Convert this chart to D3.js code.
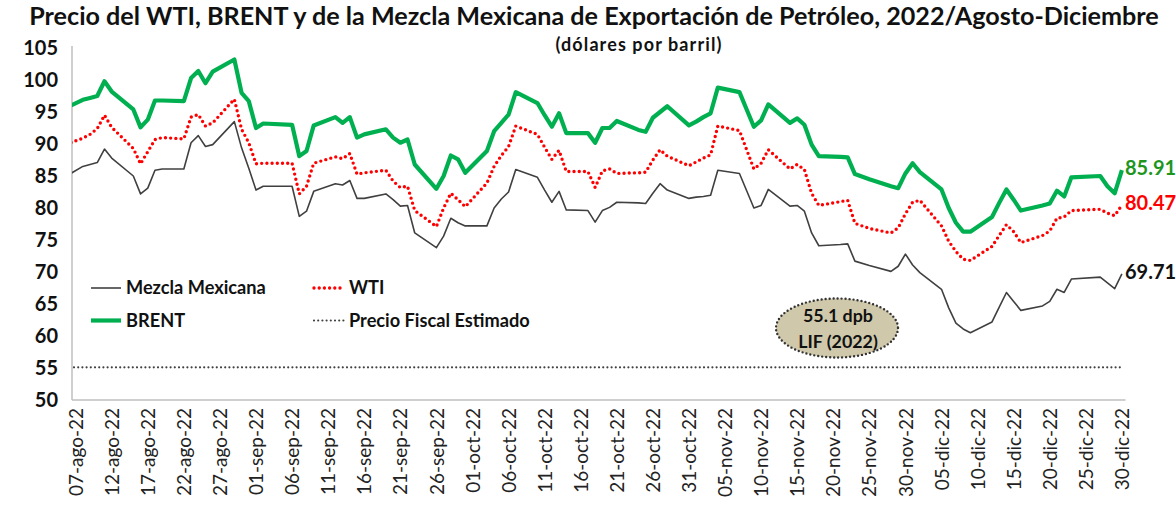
<!DOCTYPE html>
<html>
<head>
<meta charset="utf-8">
<script src="https://cdn.jsdelivr.net/npm/d3@7"></script>
<style>
  body { margin: 0; background: #fff; }
  svg { display: block; }
  .axis path, .axis line { stroke: #bfbfbf; }
</style>
</head>
<body>
<svg id="chart"></svg>
<script>
// trading days
const dates = ["2022-08-05","2022-08-08","2022-08-09","2022-08-10","2022-08-11","2022-08-12","2022-08-15","2022-08-16","2022-08-17","2022-08-18","2022-08-19","2022-08-22","2022-08-23","2022-08-24","2022-08-25","2022-08-26","2022-08-29","2022-08-30","2022-08-31",
  "2022-09-01","2022-09-02","2022-09-06","2022-09-07","2022-09-08","2022-09-09","2022-09-12","2022-09-13","2022-09-14","2022-09-15","2022-09-16","2022-09-19","2022-09-20","2022-09-21","2022-09-22","2022-09-23","2022-09-26","2022-09-27","2022-09-28","2022-09-29","2022-09-30",
  "2022-10-03","2022-10-04","2022-10-05","2022-10-06","2022-10-07","2022-10-10","2022-10-11","2022-10-12","2022-10-13","2022-10-14","2022-10-17","2022-10-18","2022-10-19","2022-10-20","2022-10-21","2022-10-24","2022-10-25","2022-10-26","2022-10-27","2022-10-28","2022-10-31",
  "2022-11-01","2022-11-02","2022-11-03","2022-11-04","2022-11-07","2022-11-08","2022-11-09","2022-11-10","2022-11-11","2022-11-14","2022-11-15","2022-11-16","2022-11-17","2022-11-18","2022-11-21","2022-11-22","2022-11-23","2022-11-25","2022-11-28","2022-11-29","2022-11-30",
  "2022-12-01","2022-12-02","2022-12-05","2022-12-06","2022-12-07","2022-12-08","2022-12-09","2022-12-12","2022-12-13","2022-12-14","2022-12-15","2022-12-16","2022-12-19","2022-12-20","2022-12-21","2022-12-22","2022-12-23","2022-12-27","2022-12-28","2022-12-29","2022-12-30"];

const brent = [95.3, 96.9, 97.2, 97.5, 99.8, 98.2, 95.4, 92.6, 93.8, 96.8, 96.8, 96.7, 100.3, 101.4, 99.5, 101.3, 103.2, 98.0, 96.7,
  92.5, 93.2, 93.0, 88.1, 88.9, 92.9, 94.2, 93.3, 94.2, 91.0, 91.5, 92.3, 91.0, 90.2, 90.7, 86.8, 83.0, 85.0, 88.2, 87.6, 85.5,
  88.9, 92.0, 93.3, 94.6, 98.1, 96.4, 94.5, 92.7, 94.8, 91.7, 91.7, 90.2, 92.5, 92.5, 93.6, 92.2, 91.9, 94.1, 95.0, 95.9, 92.9,
  93.5, 94.2, 94.8, 98.8, 98.1, 95.4, 92.7, 93.7, 96.2, 93.3, 94.0, 93.0, 89.9, 88.1, 88.0, 87.9, 85.3, 84.5, 83.4, 83.1, 85.4,
  87.0, 85.6, 82.9, 80.0, 77.7, 76.3, 76.3, 78.6, 80.8, 82.9, 81.3, 79.6, 80.4, 80.7, 82.7, 81.8, 84.8, 85.0, 83.4, 82.3, 85.91];

const wti = [89.7, 90.9, 91.5, 92.4, 94.5, 92.6, 89.3, 86.9, 88.8, 90.7, 91.0, 90.8, 94.2, 94.6, 92.8, 93.3, 97.0, 92.3, 90.2,
  86.9, 87.0, 87.0, 82.2, 83.4, 87.0, 88.0, 87.7, 88.5, 85.3, 85.5, 85.9, 84.2, 83.2, 83.4, 79.6, 77.1, 80.0, 82.3, 81.3, 80.2,
  83.9, 86.5, 88.2, 89.6, 92.8, 91.5, 89.5, 87.6, 89.0, 85.7, 85.7, 83.2, 85.8, 86.1, 85.4, 85.5, 85.6, 87.5, 89.1, 88.1, 86.6,
  87.2, 87.8, 88.3, 92.8, 92.1, 89.1, 86.1, 87.0, 89.1, 86.1, 86.8, 86.0, 82.3, 80.4, 81.0, 81.2, 77.6, 76.8, 76.1, 76.9, 79.1,
  80.9, 81.2, 77.2, 74.8, 73.2, 72.0, 71.8, 74.0, 75.7, 77.4, 76.3, 74.6, 75.7, 76.4, 78.4, 78.6, 79.6, 79.8, 79.2, 78.8, 80.47];

const mezcla = [84.5, 86.5, 86.8, 87.1, 89.2, 87.8, 85.0, 82.2, 83.1, 85.9, 86.1, 86.1, 90.2, 91.3, 89.6, 89.9, 93.5, 89.4, 86.2,
  82.8, 83.4, 83.4, 78.7, 79.5, 82.6, 83.8, 83.6, 84.3, 81.5, 81.5, 82.2, 81.3, 80.3, 80.4, 76.1, 73.8, 75.6, 78.4, 77.7, 77.2,
  77.2, 80.0, 81.4, 82.5, 86.0, 84.8, 82.8, 80.9, 82.6, 79.7, 79.6, 77.8, 79.6, 80.1, 80.9, 80.8, 80.7, 82.3, 83.8, 82.8, 81.5,
  81.7, 81.8, 82.0, 85.9, 85.4, 82.7, 80.0, 80.4, 82.9, 80.3, 80.4, 79.5, 76.1, 74.1, 74.3, 74.4, 71.7, 71.0, 70.1, 70.9, 72.8,
  71.1, 69.9, 67.3, 64.4, 62.0, 61.1, 60.5, 62.2, 64.5, 66.8, 65.4, 64.0, 64.7, 65.4, 67.3, 66.8, 68.9, 69.2, 68.3, 67.4, 69.71];

const precioFiscal = 55.1;
const yTicks = [50, 55, 60, 65, 70, 75, 80, 85, 90, 95, 100, 105];
const xTickLabels = ["07-ago-22","12-ago-22","17-ago-22","22-ago-22","27-ago-22","01-sep-22","06-sep-22","11-sep-22","16-sep-22","21-sep-22",
  "26-sep-22","01-oct-22","06-oct-22","11-oct-22","16-oct-22","21-oct-22","26-oct-22","31-oct-22","05-nov-22","10-nov-22",
  "15-nov-22","20-nov-22","25-nov-22","30-nov-22","05-dic-22","10-dic-22","15-dic-22","20-dic-22","25-dic-22","30-dic-22"];
const meses = ["ene","feb","mar","abr","may","jun","jul","ago","sep","oct","nov","dic"];

const W = 1176, H = 506;
const plot = { left: 72, right: 1125.5, top: 48, bottom: 400 };
const font = "Lato, 'Open Sans', sans-serif";

const svg = d3.select("#chart").attr("width", W).attr("height", H)
  .style("font-family", font);

// size a text so that it spans a given width, as in the reference
const fitWidth = (sel, base, target) =>
  sel.attr("font-size", base).attr("font-size", base * target / sel.node().getComputedTextLength());

const parse = d3.timeParse("%Y-%m-%d");
// Excel date axis: each day is a slot, the point sits in the middle of it
const mid = (d) => d3.timeHour.offset(d, 12);
const labelDate = (s) => {
  const [dd, mm, yy] = s.split("-");
  return new Date(2000 + +yy, meses.indexOf(mm), +dd);
};

const x = d3.scaleTime()
  .domain([new Date(2022, 7, 7), new Date(2022, 11, 31)])
  .range([plot.left, plot.right]);
const y = d3.scaleLinear().domain([50, 105]).range([plot.bottom, plot.top]);

const rows = dates.map((d, i) => ({
  date: mid(parse(d)), brent: brent[i], wti: wti[i], mezcla: mezcla[i],
}));

svg.append("defs").append("clipPath").attr("id", "plotclip")
  .append("rect")
  .attr("x", plot.left).attr("y", 0)
  .attr("width", plot.right - plot.left).attr("height", plot.bottom);

// title
const title = svg.append("text")
  .attr("x", 594).attr("y", 25)
  .attr("text-anchor", "middle")
  .attr("font-weight", 700)
  .attr("fill", "#111")
  .text("Precio del WTI, BRENT y de la Mezcla Mexicana de Exportación de Petróleo, 2022/Agosto-Diciembre");
fitWidth(title, 21, 1130);

svg.append("text")
  .attr("x", 639).attr("y", 51)
  .attr("text-anchor", "middle")
  .attr("font-weight", 700).attr("font-size", 18)
  .attr("letter-spacing", 1.1)
  .attr("fill", "#111")
  .text("(dólares por barril)");

// axes
const yAxis = svg.append("g")
  .attr("class", "axis")
  .attr("transform", `translate(${plot.left},0)`)
  .call(d3.axisLeft(y).tickValues(yTicks).tickSize(0).tickPadding(14));
yAxis.select(".domain").attr("d", `M0,${plot.top - 2}V${plot.bottom}`).attr("stroke-width", 1.5);
yAxis.selectAll("text")
  .attr("font-family", font).attr("font-weight", 700).attr("font-size", 20)
  .attr("fill", "#111");

const xAxis = svg.append("g")
  .attr("class", "axis")
  .attr("transform", `translate(0,${plot.bottom})`)
  .call(d3.axisBottom(x)
    .tickValues(xTickLabels.map((s) => mid(labelDate(s))))
    .tickFormat((d, i) => xTickLabels[i])
    .tickSize(0));
xAxis.select(".domain").attr("d", `M${plot.left},0H${plot.right}`).attr("stroke-width", 1.5);
const xLabels = xAxis.selectAll("text")
  .attr("font-family", font).attr("fill", "#222")
  .attr("text-anchor", "end")
  .attr("dy", "0.35em")
  .attr("transform", "rotate(-90)")
  .attr("x", -8).attr("y", 0);
fitWidth(xLabels, 15, 88);

// precio fiscal estimado
svg.append("line")
  .attr("x1", plot.left + 2).attr("x2", 1121)
  .attr("y1", y(precioFiscal)).attr("y2", y(precioFiscal))
  .attr("stroke", "#404040").attr("stroke-width", 2.2)
  .attr("stroke-linecap", "round").attr("stroke-dasharray", "0 4.2");

const series = [
  { key: "mezcla", color: "#404040", width: 1.6, dash: null, label: "Mezcla Mexicana" },
  { key: "wti", color: "#ff0000", width: 3.4, dash: "0 5.2", label: "WTI" },
  { key: "brent", color: "#00b050", width: 4.2, dash: null, label: "BRENT" },
];

const lines = svg.append("g").attr("clip-path", "url(#plotclip)");
series.slice().reverse().forEach((s) => {
  lines.append("path")
    .datum(rows)
    .attr("fill", "none")
    .attr("stroke", s.color)
    .attr("stroke-width", s.width)
    .attr("stroke-linejoin", "round")
    .attr("stroke-linecap", s.dash ? "round" : "butt")
    .attr("stroke-dasharray", s.dash)
    .attr("d", d3.line().x((d) => x(d.date)).y((d) => y(d[s.key])));
});

// last values
const last = rows[rows.length - 1];
[
  { key: "brent", color: "#1e961e" },
  { key: "wti", color: "#ff0000" },
  { key: "mezcla", color: "#111" },
].forEach((s) => {
  svg.append("text")
    .attr("x", 1125).attr("y", y(last[s.key]) - 2)
    .attr("dy", "0.35em")
    .attr("font-weight", 700).attr("font-size", 20)
    .attr("fill", s.color)
    .text(last[s.key].toFixed(2));
});

// legend
const legend = [
  { s: series[0], x: 91, y: 288 },
  { s: series[1], x: 314, y: 288 },
  { s: series[2], x: 91, y: 320.5 },
  { s: { color: "#404040", width: 2.2, dash: "0 4.2", label: "Precio Fiscal Estimado" }, x: 314, y: 320.5 },
];
const legendSize = (() => {
  const t = svg.append("text").attr("font-weight", 700).attr("font-size", 16).text("Mezcla Mexicana");
  const k = 16 * 140 / t.node().getComputedTextLength();
  t.remove();
  return k;
})();
legend.forEach(({ s, x: lx, y: ly }) => {
  svg.append("line")
    .attr("x1", lx).attr("x2", lx + 30).attr("y1", ly).attr("y2", ly)
    .attr("stroke", s.color).attr("stroke-width", s.width)
    .attr("stroke-linecap", s.dash ? "round" : "butt")
    .attr("stroke-dasharray", s.dash);
  svg.append("text")
    .attr("x", lx + 35).attr("y", ly).attr("dy", "0.35em")
    .attr("font-weight", 700).attr("font-size", legendSize).attr("fill", "#111")
    .text(s.label);
});

// LIF callout
const cx = 837, cy = 328;
svg.append("ellipse")
  .attr("cx", cx).attr("cy", cy).attr("rx", 61).attr("ry", 29.5)
  .attr("fill", "#d0c8aa")
  .attr("stroke", "#333").attr("stroke-width", 2.4)
  .attr("stroke-linecap", "round").attr("stroke-dasharray", "0 4");
const lif1 = svg.append("text")
  .attr("x", cx + 1).attr("y", cy - 12).attr("dy", "0.35em")
  .attr("text-anchor", "middle")
  .attr("font-weight", 700).attr("fill", "#111")
  .text(`${precioFiscal} dpb`);
fitWidth(lif1, 16, 70);
svg.append("text")
  .attr("x", cx + 1).attr("y", cy + 14).attr("dy", "0.35em")
  .attr("text-anchor", "middle")
  .attr("font-weight", 700).attr("font-size", lif1.attr("font-size")).attr("fill", "#111")
  .text("LIF (2022)");
</script>
</body>
</html>
